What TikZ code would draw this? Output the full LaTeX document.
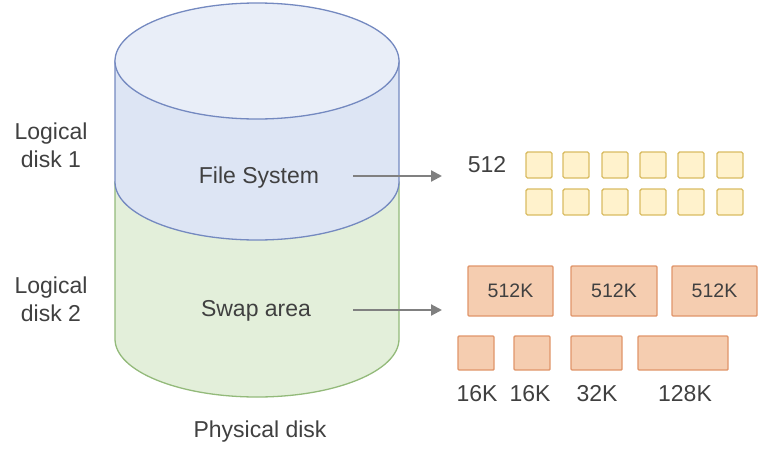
\documentclass[tikz,border=0pt]{standalone}
\usepackage{fontspec}
\setmainfont{Liberation Sans}
\usetikzlibrary{arrows.meta}
\definecolor{txt}{HTML}{404040}
\definecolor{bluefill}{HTML}{DDE5F4}
\definecolor{bluetop}{HTML}{E9EEF8}
\definecolor{bluestroke}{HTML}{7489C0}
\definecolor{greenfill}{HTML}{E3EFDA}
\definecolor{greenstroke}{HTML}{93BA7A}
\definecolor{yelfill}{HTML}{FFF2CC}
\definecolor{yelstroke}{HTML}{D9BC62}
\definecolor{orfill}{HTML}{F5CDB0}
\definecolor{orstroke}{HTML}{E0956A}
\definecolor{arrowgray}{HTML}{808080}
\tikzset{
  lbl/.style={text=txt, font=\fontsize{23}{26}\selectfont, inner sep=0pt, align=center},
  inlbl/.style={text=txt, font=\fontsize{19.5}{22}\selectfont, inner sep=0pt},
  ysq/.style={draw=yelstroke, fill=yelfill, line width=1.4pt, rounded corners=1.5pt, minimum width=26pt, minimum height=26pt, inner sep=0pt},
  obox/.style={draw=orstroke, fill=orfill, line width=1.4pt, rounded corners=1pt, inner sep=0pt},
  conn/.style={draw=arrowgray, line width=2.2pt, -{Triangle[length=11pt,width=11pt]}},
}
\begin{document}
\begin{tikzpicture}[x=1pt,y=-1pt]
\useasboundingbox (0,0) rectangle (778,458);
% green lower cylinder
\path[draw=greenstroke, fill=greenfill, line width=1.3pt]
  (115,182) -- (115,339) arc[start angle=180, end angle=360, x radius=142, y radius=-58] -- (399,182) -- cycle;
% blue upper cylinder
\path[draw=bluestroke, fill=bluefill, line width=1.3pt]
  (115,61) -- (115,182) arc[start angle=180, end angle=360, x radius=142, y radius=-58] -- (399,61) -- cycle;
\path[draw=bluestroke, fill=bluetop, line width=1.3pt] (257,61) ellipse[x radius=142, y radius=58];
% texts
\node[lbl] (fs) at (259,178) {File System};
\node[lbl] (swap) at (256,311) {Swap area};
\node[lbl] (phys) at (260,432) {Physical disk};
\node[lbl, font=\fontsize{23}{28}\selectfont] (ld1) at (51,145) {Logical\\disk 1};
\node[lbl, font=\fontsize{23}{28}\selectfont] (ld2) at (51,299) {Logical\\disk 2};
\node[lbl] (n512) at (487,165) {512};
% arrow endpoints
\coordinate (fsA) at (353,176);
\coordinate (fsB) at (442,176);
\coordinate (swA) at (353,310);
\coordinate (swB) at (442,310);
\draw[conn] (fsA) -- (fsB);
\draw[conn] (swA) -- (swB);
% yellow squares
\foreach \x [count=\i] in {539,576,615,653,691,730} {
  \node[ysq] (ya\i) at (\x,165) {};
  \node[ysq] (yb\i) at (\x,202) {};
}
% orange 512K boxes
\node[obox, minimum width=85pt, minimum height=50pt] (o1) at (510.5,291) {};
\node[inlbl] at (o1) {512K};
\node[obox, minimum width=86pt, minimum height=50pt] (o2) at (614,291) {};
\node[inlbl] at (o2) {512K};
\node[obox, minimum width=85pt, minimum height=50pt] (o3) at (714.5,291) {};
\node[inlbl] at (o3) {512K};
% small boxes
\node[obox, minimum width=36pt, minimum height=34pt] (s1) at (476,353) {};
\node[obox, minimum width=36pt, minimum height=34pt] (s2) at (532,353) {};
\node[obox, minimum width=51pt, minimum height=34pt] (s3) at (596.5,353) {};
\node[obox, minimum width=90pt, minimum height=34pt] (s4) at (683,353) {};
\node[lbl] (t1) at (477,394) {16K};
\node[lbl] (t2) at (530,394) {16K};
\node[lbl] (t3) at (597,394) {32K};
\node[lbl] (t4) at (685,394) {128K};
\end{tikzpicture}
\end{document}
